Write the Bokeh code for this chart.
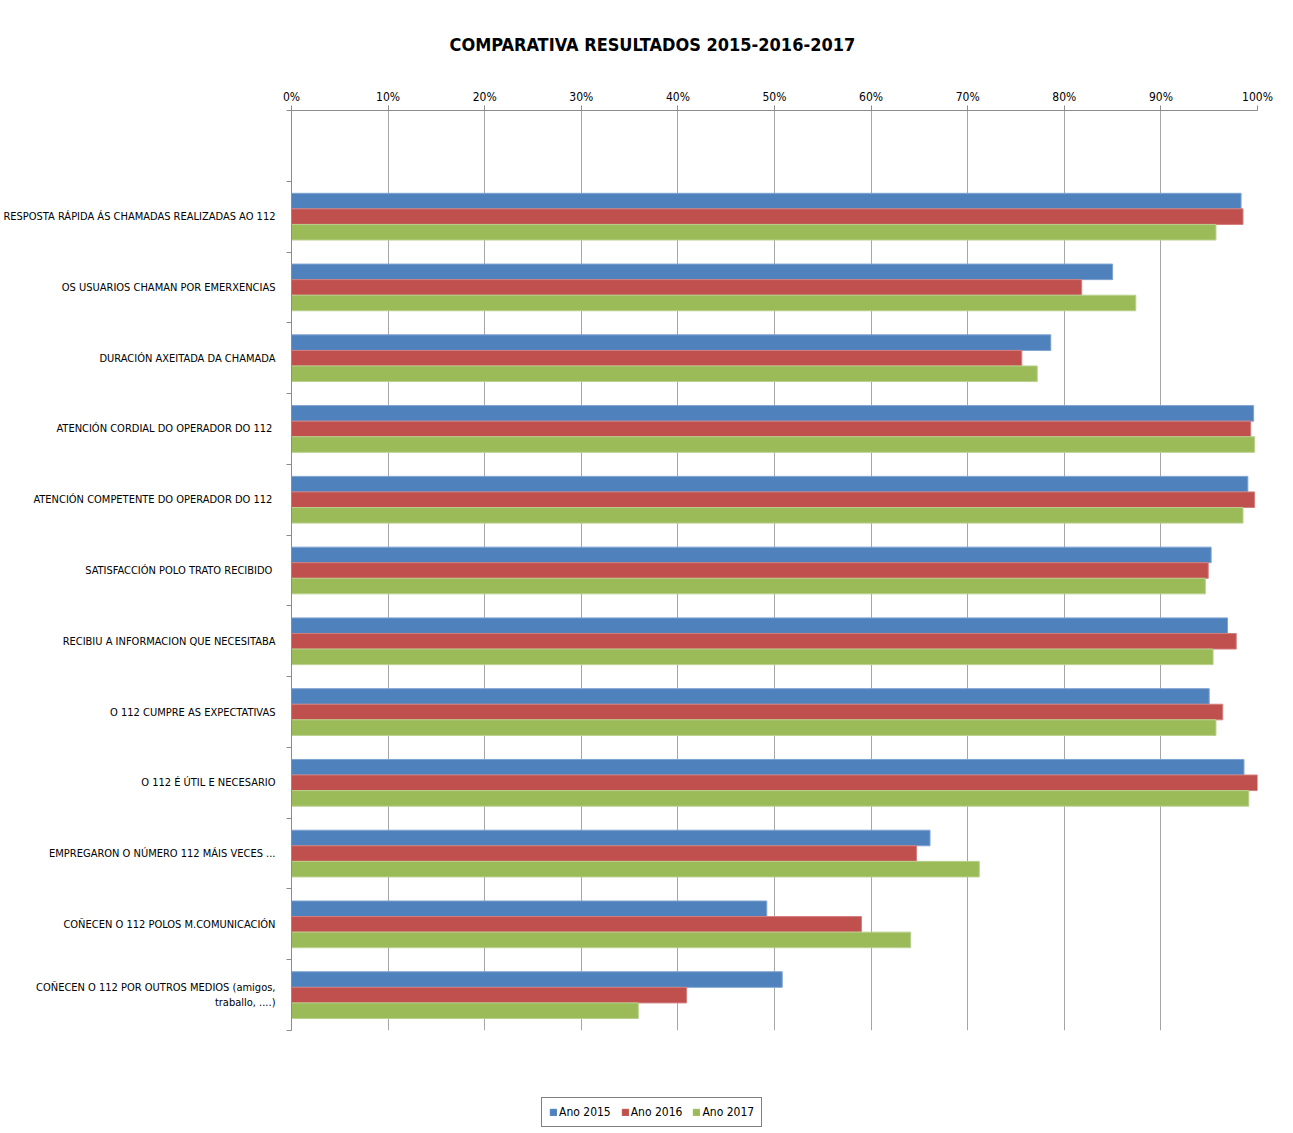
from bokeh.plotting import figure
from bokeh.layouts import column
from bokeh.models import (Range1d, FixedTicker, PrintfTickFormatter, Legend, LegendItem,
                          ColumnDataSource)
from bokeh.embed import file_html
from bokeh.resources import INLINE
import numpy as np

FONT = "DejaVu Sans Condensed, Roboto Condensed, Roboto"

categories = [
    "RESPOSTA RÁPIDA ÁS CHAMADAS REALIZADAS AO 112",
    "OS USUARIOS CHAMAN POR EMERXENCIAS",
    "DURACIÓN AXEITADA DA CHAMADA",
    "ATENCIÓN CORDIAL DO OPERADOR DO 112 ",
    "ATENCIÓN COMPETENTE DO OPERADOR DO 112 ",
    "SATISFACCIÓN POLO TRATO RECIBIDO ",
    "RECIBIU A INFORMACION QUE NECESITABA",
    "O 112 CUMPRE AS EXPECTATIVAS",
    "O 112 É ÚTIL E NECESARIO",
    "EMPREGARON O NÚMERO 112 MÁIS VECES ...",
    "COÑECEN O 112 POLOS M.COMUNICACIÓN",
    "COÑECEN O 112 POR OUTROS MEDIOS (amigos,\ntraballo, ....)",
]
series_names = ["Ano 2015", "Ano 2016", "Ano 2017"]
ano_2015 = [98.3, 85.0, 78.6, 99.6, 99.0, 95.2, 96.9, 95.0, 98.6, 66.1, 49.2, 50.8]
ano_2016 = [98.5, 81.8, 75.6, 99.3, 99.7, 94.9, 97.8, 96.4, 100.0, 64.7, 59.0, 40.9]
ano_2017 = [95.7, 87.4, 77.2, 99.7, 98.5, 94.6, 95.4, 95.7, 99.1, 71.2, 64.1, 35.9]
x_ticks = [0, 10, 20, 30, 40, 50, 60, 70, 80, 90, 100]

colors = ["#4F81BD", "#C0504D", "#9BBB59"]
edges = ["#7EA3D1", "#D27F7D", "#B9D08C"]

# slot 0 is an empty category at the top (as in the original chart)
pos = np.arange(1, len(categories) + 1)

p = figure(frame_width=966, frame_height=920, output_backend="svg", toolbar_location=None,
           x_range=Range1d(0, 100), y_range=Range1d(12.5, -0.5),
           x_axis_location="above",
           title="COMPARATIVA RESULTADOS 2015-2016-2017",
           min_border_left=284, min_border_right=35, min_border_top=110, min_border_bottom=52)
p.background_fill_color = "white"
p.border_fill_color = "white"
p.outline_line_color = None

p.title.text_font = FONT
p.title.text_font_size = "18px"
p.title.text_font_style = "bold"
p.title.text_color = "#000000"
p.title.align = "left"
p.title.offset = 158
p.title.standoff = 63

bh = 0.22
offsets = [-bh, 0.0, bh]
sources = []
for vals, off, c, e in zip([ano_2015, ano_2016, ano_2017], offsets, colors, edges):
    src = ColumnDataSource(dict(y=pos + off, right=vals))
    sources.append(src)
    p.hbar(y="y", right="right", left=0, height=bh, source=src,
           fill_color=c, line_color=e, line_width=1)

# x axis (top)
xa = p.xaxis[0]
xa.ticker = FixedTicker(ticks=x_ticks)
xa.formatter = PrintfTickFormatter(format="%d%%")
xa.major_label_text_font = FONT
xa.major_label_text_font_size = "12px"
xa.major_label_text_color = "#000000"
xa.major_label_standoff = 2
xa.major_tick_out = 5
xa.major_tick_in = 0
xa.minor_tick_out = 0
xa.minor_tick_in = 0
xa.axis_line_color = "#8C8C8C"
xa.major_tick_line_color = "#8C8C8C"

# y axis (left)
ya = p.yaxis[0]
ya.ticker = FixedTicker(ticks=list(pos), minor_ticks=list(np.arange(-0.5, 13.0, 1.0)))
ya.major_label_overrides = {int(k): v for k, v in zip(pos, categories)}
ya.major_label_text_font = FONT
ya.major_label_text_font_size = "11px"
ya.major_label_text_color = "#000000"
ya.major_label_standoff = 11
ya.major_tick_out = 0
ya.major_tick_in = 0
ya.minor_tick_out = 5
ya.minor_tick_in = 0
ya.minor_tick_line_color = "#8C8C8C"
ya.axis_line_color = "#8C8C8C"

p.xgrid.grid_line_color = "#A6A6A6"
p.xgrid.grid_line_width = 1
p.ygrid.grid_line_color = None

# legend strip below the chart: same series sources, but outside this strip's view
p2 = figure(width=1285, height=45, output_backend="svg", toolbar_location=None,
            x_range=Range1d(0, 100), y_range=Range1d(100, 101),
            min_border_left=0, min_border_right=0, min_border_top=0, min_border_bottom=0)
p2.axis.visible = False
p2.grid.visible = False
p2.outline_line_color = None
p2.background_fill_color = "white"
p2.border_fill_color = "white"
proxies = []
for src, c in zip(sources, colors):
    proxies.append(p2.hbar(y="y", right="right", left=0, height=bh, source=src,
                           fill_color=c, line_color=c))

legend = Legend(items=[LegendItem(label=n, renderers=[r]) for n, r in zip(series_names, proxies)],
                orientation="horizontal", location=(250, 0))
legend.label_text_font = FONT
legend.label_text_font_size = "12px"
legend.label_text_color = "#000000"
legend.glyph_width = 8
legend.glyph_height = 8
legend.label_standoff = 2
legend.spacing = 10
legend.padding = 7
legend.margin = 0
legend.border_line_color = "#000000"
legend.border_line_width = 1
legend.label_height = 14
p2.add_layout(legend, "center")

open("out.html", "w").write(file_html(column(p, p2, spacing=0), INLINE))
